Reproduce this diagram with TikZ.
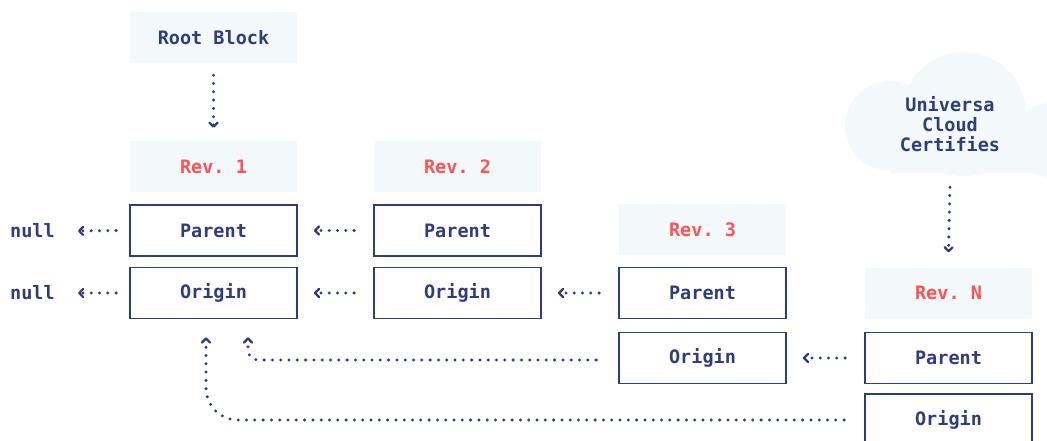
\documentclass[tikz,border=0pt]{standalone}
\usepackage{fontspec}
\setmonofont{DejaVu Sans Mono}
\usetikzlibrary{arrows.meta}
\definecolor{navy}{HTML}{2E3D7F}
\definecolor{revred}{HTML}{FF5252}
\definecolor{pale}{HTML}{F3F8FB}
\begin{document}
\begin{tikzpicture}[x=1pt,y=-1pt,
 every node/.style={font=\ttfamily\bfseries\fontsize{18.5}{20}\selectfont, text=navy},
 field/.style={draw=navy, line width=1.8pt, minimum width=167pt, minimum height=51pt, inner sep=0pt},
 header/.style={fill=pale, minimum width=167pt, minimum height=51pt, inner sep=0pt, text=revred},
 nulltext/.style={inner sep=0pt},
 link/.style={navy, line width=3.3pt, line cap=round, dash pattern=on 0pt off 8.3pt,
   -{Straight Barb[length=4pt,width=8pt,line width=2.2pt,round]}},
]
\useasboundingbox (0,0) rectangle (1047,441);
\clip (0,0) rectangle (1047,441);

% cloud
\fill[pale] (890,126) circle (45pt) (964,114) circle (62pt) (1050,140) circle (37pt);
\fill[pale] (890,130) rectangle (1050,173);
\node[align=center, minimum height=98pt, inner sep=0pt] (cloud) at (950,124) {Universa\\Cloud\\Certifies};

% blocks
\node[header, text=navy] (root) at (213.5,37.5) {Root Block};

\node[header] (rev1) at (213.5,166.5) {Rev. 1};
\node[field] (p1) at (213.5,230.5) {Parent};
\node[field] (o1) at (213.5,293) {Origin};

\node[header] (rev2) at (457.5,166.5) {Rev. 2};
\node[field] (p2) at (457.5,230.5) {Parent};
\node[field] (o2) at (457.5,293) {Origin};

\node[header] (rev3) at (702.5,229.5) {Rev. 3};
\node[field] (p3) at (702.5,293) {Parent};
\node[field] (o3) at (702.5,358) {Origin};

\node[header] (revN) at (948.5,293) {Rev. N};
\node[field] (pN) at (948.5,358) {Parent};
\node[field, minimum height=52pt] (oN) at (948.5,420) {Origin};

\node[nulltext] (n1) at (32.5,231) {null};
\node[nulltext] (n2) at (32.5,293) {null};

% connectors
\draw[link] ([yshift=-12pt]root.south) -- ([yshift=13pt]rev1.north);
\draw[link] ([yshift=-14pt]cloud.south) -- ([yshift=15pt]revN.north);

\draw[link] ([xshift=-13pt]p1.west) -- ([xshift=23pt]n1.east);
\draw[link] ([xshift=-13pt]o1.west) -- ([xshift=23pt]n2.east);

\draw[link] ([xshift=-19pt]p2.west) -- ([xshift=16pt]p1.east);
\draw[link] ([xshift=-19pt]o2.west) -- ([xshift=16pt]o1.east);
\draw[link] ([xshift=-19pt]p3.west) -- ([xshift=16pt]o2.east);
\draw[link] ([xshift=-19pt]pN.west) -- ([xshift=16pt]o3.east);

\draw[link, rounded corners=10pt] ([xshift=-22pt,yshift=-2pt]o3.west) -| ([xshift=34.5pt,yshift=-18pt]o1.south);
\draw[link, rounded corners=32pt] ([xshift=-20pt]oN.west) -| ([xshift=-7.5pt,yshift=-18pt]o1.south);
\end{tikzpicture}
\end{document}
